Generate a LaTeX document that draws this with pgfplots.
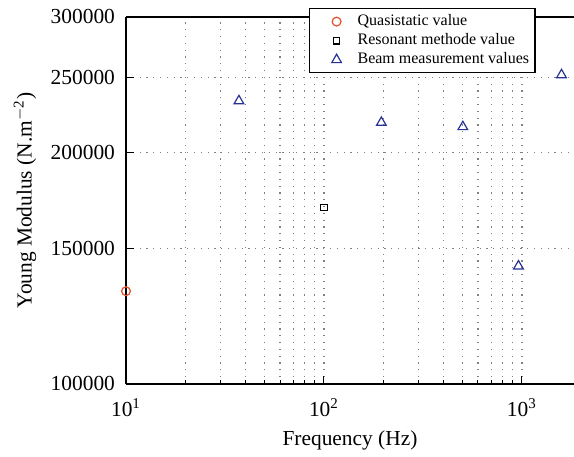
\documentclass[border=0pt]{standalone}
\usepackage{fontspec}
\setmainfont{Liberation Serif}
\usepackage{pgfplots}
\pgfplotsset{compat=1.18}
\definecolor{qcol}{RGB}{232,80,42}
\definecolor{bcol}{RGB}{40,50,150}
\begin{document}
\begin{tikzpicture}
\useasboundingbox (-63pt,-36pt) rectangle (224pt,192pt);
\begin{axis}[
  at={(0,0)}, anchor=south west,
  width=224pt, height=183.5pt, scale only axis,
  xmode=log, ymode=log,
  xmin=10, xmax=1833,
  ymin=100000, ymax=300000,
  axis x line*=box, axis y line*=left,
  axis line style={line width=0.9pt},
  xtick={10,100,1000},
  xticklabels={10\textsuperscript{1},10\textsuperscript{2},10\textsuperscript{3}},
  ytick={100000,150000,200000,250000,300000},
  yticklabels={100000,150000,200000,250000,300000},
  minor xtick={20,30,40,50,60,70,80,90,200,300,400,500,600,700,800,900},
  minor ytick={},
  xtick pos=bottom, ytick pos=left,
  tick align=inside,
  major tick length=4pt, minor tick length=2pt,
  tick style={black, line width=0.5pt},
  xmajorgrids, xminorgrids, ymajorgrids,
  grid style={gray, line width=0.6pt, dash pattern=on 0.6pt off 2.8pt},
  minor grid style={gray, line width=0.6pt, dash pattern=on 0.6pt off 2.8pt},
  ticklabel style={font=\fontsize{10.7}{12.8}\selectfont},
  xticklabel style={yshift=-4pt},
  yticklabel style={xshift=-2pt},
  label style={font=\fontsize{10.7}{12.8}\selectfont},
  xlabel={Frequency (Hz)},
  ylabel={Young Modulus (N.m\textsuperscript{$-$2})},
  xlabel style={at={(axis description cs:0.5,-0.1526)}, anchor=center},
  ylabel style={at={(axis description cs:-0.2254,0.5)}, anchor=center},
  legend style={at={(0.4085,1.0245)}, anchor=north west, draw=black, line width=0.6pt,
    font=\fontsize{8}{9.5}\selectfont, fill=white, inner sep=1pt,
    row sep=-1.5pt, legend cell align=left},
  legend image code/.code={\path[draw=none] (0pt,0pt) -- (21pt,0pt); \path[#1, draw=none] plot coordinates {(12.5pt,0pt)};},
  clip=false,
]
\addplot[only marks, mark=o, mark size=2.2pt, qcol, line width=0.6pt] coordinates {(10,132000)};
\addlegendentry{Quasistatic value}
\addplot[only marks, mark=square, mark size=1.6pt, black, line width=0.6pt] coordinates {(100,169500)};
\addlegendentry{Resonant methode value}
\addplot[only marks, mark=triangle, mark size=2.8pt, bcol, line width=0.6pt] coordinates {
 (37.2,233300) (195,218700) (503,215900) (961,142300) (1585,252200)};
\addlegendentry{Beam measurement values}
\end{axis}
\end{tikzpicture}
\end{document}
